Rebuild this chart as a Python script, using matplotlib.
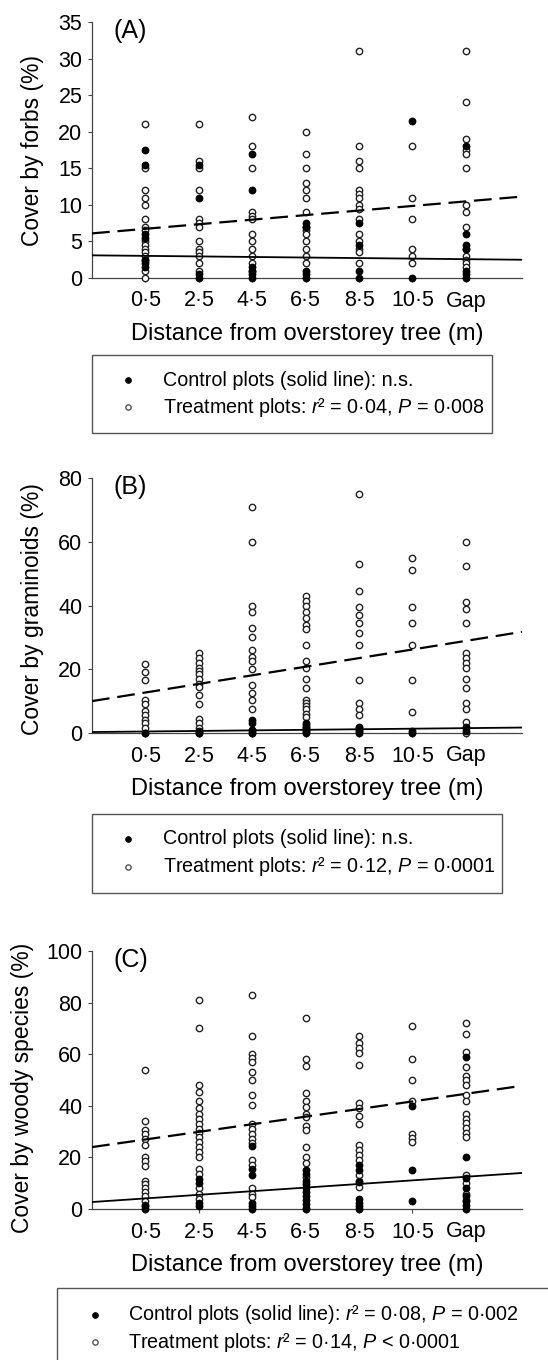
import matplotlib
matplotlib.use('Agg')
import matplotlib.pyplot as plt
from matplotlib.patches import Rectangle
from matplotlib.lines import Line2D
import numpy as np

plt.rcParams['font.family'] = ['Liberation Sans', 'DejaVu Sans']
plt.rcParams['mathtext.fontset'] = 'custom'
plt.rcParams['mathtext.it'] = 'Liberation Sans:italic'
plt.rcParams['mathtext.rm'] = 'Liberation Sans'

# categories along x
distances = ['0·5', '2·5', '4·5', '6·5', '8·5', '10·5', 'Gap']

# (A) forbs cover (%), one list per distance class
forbs_treat = [
    [21, 15, 12, 11, 10, 8, 7, 6.5, 5, 4.5, 4, 3.5, 3, 2.5, 1, 0],
    [21, 16, 15, 12, 8, 7.5, 7, 5, 4, 3.5, 3, 2, 1],
    [22, 18, 15, 9, 8.5, 8, 6, 5, 4, 3, 2, 1],
    [20, 17, 15, 13, 12, 11, 9, 7, 6.5, 6, 5, 4, 3, 2],
    [31, 18, 16, 15, 12, 11.5, 11, 10, 9.5, 8, 6, 5, 4, 3.5, 2],
    [18, 11, 8, 4, 3, 2],
    [31, 24, 19, 17.5, 17, 15, 10, 9, 7, 4, 3, 2.5, 2, 1.5],
]
forbs_ctrl = [
    [17.5, 15.5, 6, 5.5, 2.5, 2, 1.5],
    [15.5, 11, 0.5, 0],
    [17, 12, 1.5, 1, 0.5, 0],
    [7.5, 7, 1, 0.5, 0],
    [7.5, 4.5, 1, 0],
    [21.5, 0],
    [18, 6, 4.5, 4, 1, 0.5, 0],
]

# (B) graminoids cover (%)
gram_treat = [
    [21.5, 19, 16.5, 10.5, 9, 7, 5.5, 4, 3, 1.5, 0],
    [25, 23.5, 22, 20.5, 19.5, 18.5, 17, 15.5, 14.5, 12, 9, 4.5, 3, 1.5, 0],
    [71, 60, 40, 38, 33, 30, 26, 24, 22.5, 20, 15, 12.5, 10.5, 7.5, 1, 0],
    [43, 41.5, 40, 38, 36, 34, 32.5, 27.5, 22.5, 20.5, 17, 14, 10.5, 9.5, 8.5, 7.5, 6, 5],
    [75, 53, 44.5, 39.5, 37, 34.5, 31.5, 27.5, 16.5, 9.5, 7.5, 5.5],
    [55, 51, 39.5, 34.5, 27.5, 16.5, 6.5],
    [60, 52.5, 41, 39, 34.5, 25, 23.5, 22, 20.5, 17, 14, 9.5, 7.5, 3.5, 0],
]
gram_ctrl = [
    [0],
    [0.5, 0],
    [4, 3, 1, 0],
    [3, 2.5, 2, 1.5, 1, 0.5, 0],
    [2, 1.5, 1, 0.5, 0],
    [0.5, 0],
    [2, 1.5, 0.5],
]

# (C) woody species cover (%)
woody_treat = [
    [54, 34, 30.5, 29, 27, 25, 20, 18.5, 16.5, 11, 9.5, 8, 6.5, 5, 3, 1.5],
    [81, 70, 48, 45.5, 42, 39, 37, 35, 33, 31, 29.5, 28, 26, 24, 22, 20, 15.5, 13.5, 8, 6, 4],
    [83, 67, 60, 58.5, 57, 53, 50, 44, 40.5, 33, 31, 29, 27, 25.5, 19, 17, 8, 6, 4.5],
    [74, 58, 55.5, 45, 42, 39.5, 37, 35.5, 32, 30.5, 24, 20, 18, 12.5],
    [67, 64.5, 62.5, 60.5, 56, 41, 39, 36, 33, 25, 23, 21, 19, 13, 11, 8.5],
    [71, 58, 50, 42, 29, 27.5, 26],
    [72, 68, 61, 55, 51.5, 50, 48, 44, 42, 37, 35, 33.5, 31.5, 29.5, 28, 13, 10, 6, 3.5],
]
woody_ctrl = [
    [1, 0],
    [11.5, 10, 2.5, 1],
    [24.5, 15.5, 13, 2.5, 1, 0],
    [15, 13.5, 11, 9.5, 8, 6.5, 5, 3.5, 2, 0.5, 0],
    [17, 15, 10.5, 4, 2.5, 1, 0],
    [40, 15, 3],
    [59, 20, 12, 8, 5, 3, 1.5, 0],
]

# regression lines (intercept, slope) vs. distance class index
forbs_fit_treat, forbs_fit_ctrl = (6.1, 0.625), (3.1, -0.075)
gram_fit_treat, gram_fit_ctrl = (10.0, 2.7), (0.3, 0.175)
woody_fit_treat, woody_fit_ctrl = (24.0, 2.95), (2.7, 1.4)

W, H = 548, 1360
fig = plt.figure(figsize=(W / 100, H / 100), dpi=100)


def fx(px):
    return px / W


def fy(py):
    return 1 - py / H


def panel(top, bottom, treat, ctrl, fit_t, fit_c, ymax, ystep, ylabel, tag, ylab_x, ylab_dy):
    ax = fig.add_axes([fx(92), fy(bottom), fx(430), (bottom - top) / H])
    for i, (t, c) in enumerate(zip(treat, ctrl)):
        xs = i + 1
        ax.plot([xs] * len(t), t, 'o', ms=4.6, mfc='white', mec='#222222', mew=1.0,
                zorder=3, clip_on=False)
        ax.plot([xs] * len(c), c, 'o', ms=4.6, mfc='black', mec='black', mew=1.0,
                zorder=4, clip_on=False)
    xl = np.array([0, 8.05])
    ln, = ax.plot(xl, fit_t[0] + fit_t[1] * xl, color='black', lw=1.6, zorder=5)
    ln.set_dashes([8, 3.5])
    ax.plot(xl, fit_c[0] + fit_c[1] * xl, color='black', lw=1.3, zorder=5)
    ax.set_xlim(0, 8.05)
    ax.set_ylim(0, ymax)
    ax.set_xticks(range(1, 8))
    ax.set_xticklabels(distances)
    ax.set_yticks(np.arange(0, ymax + 1, ystep))
    ax.spines['top'].set_visible(False)
    ax.spines['right'].set_visible(False)
    for s in ('left', 'bottom'):
        ax.spines[s].set_linewidth(0.9)
        ax.spines[s].set_color('#444444')
    ax.tick_params(axis='both', labelsize=15.5, length=3, width=0.8, color='#444444')
    ax.tick_params(axis='x', pad=6)
    ax.tick_params(axis='y', pad=4)
    ax.set_xlabel('Distance from overstorey tree (m)', fontsize=17, labelpad=8.5)
    ax.text(0.4, ymax * 0.965, tag, fontsize=18, va='center', ha='left')
    fig.text(fx(ylab_x), fy((top + bottom) / 2 + ylab_dy), ylabel, rotation=90,
             fontsize=16.5, ha='center', va='center')
    return ax


def legend_box(x0, y0, x1, y1, mx, tx, rows, labels):
    fig.add_artist(Rectangle((fx(x0), fy(y1)), fx(x1 - x0), (y1 - y0) / H,
                             transform=fig.transFigure, fill=False,
                             edgecolor='#555555', lw=1.0))
    styles = [dict(mfc='black', mec='black'), dict(mfc='white', mec='#555555')]
    for ry, lab, st in zip(rows, labels, styles):
        fig.add_artist(Line2D([fx(mx)], [fy(ry)], marker='o', ms=3.8, mew=1.0,
                              transform=fig.transFigure, **st))
        fig.text(fx(tx), fy(ry), lab, fontsize=14.2, va='center', ha='left')


panel(22, 278, forbs_treat, forbs_ctrl, forbs_fit_treat, forbs_fit_ctrl,
      35, 5, 'Cover by forbs (%)', '(A)', 33, 0)
legend_box(92, 355, 492, 433, 128, 163, [380, 407],
           ['Control plots (solid line): n.s.',
            r'Treatment plots: $\mathit{r}$² = 0·04, $\mathit{P}$ = 0·008'])

panel(478, 733, gram_treat, gram_ctrl, gram_fit_treat, gram_fit_ctrl,
      80, 20, 'Cover by graminoids (%)', '(B)', 33, 4)
legend_box(92, 814, 502, 893, 128, 163, [839, 867],
           ['Control plots (solid line): n.s.',
            r'Treatment plots: $\mathit{r}$² = 0·12, $\mathit{P}$ = 0·0001'])

panel(951, 1209, woody_treat, woody_ctrl, woody_fit_treat, woody_fit_ctrl,
      100, 20, 'Cover by woody species (%)', '(C)', 23, 8)
legend_box(57, 1288, 560, 1370, 95, 128, [1315, 1342],
           [r'Control plots (solid line): $\mathit{r}$² = 0·08, $\mathit{P}$ = 0·002',
            r'Treatment plots: $\mathit{r}$² = 0·14, $\mathit{P}$ < 0·0001'])

fig.savefig('out.png', dpi=100)
